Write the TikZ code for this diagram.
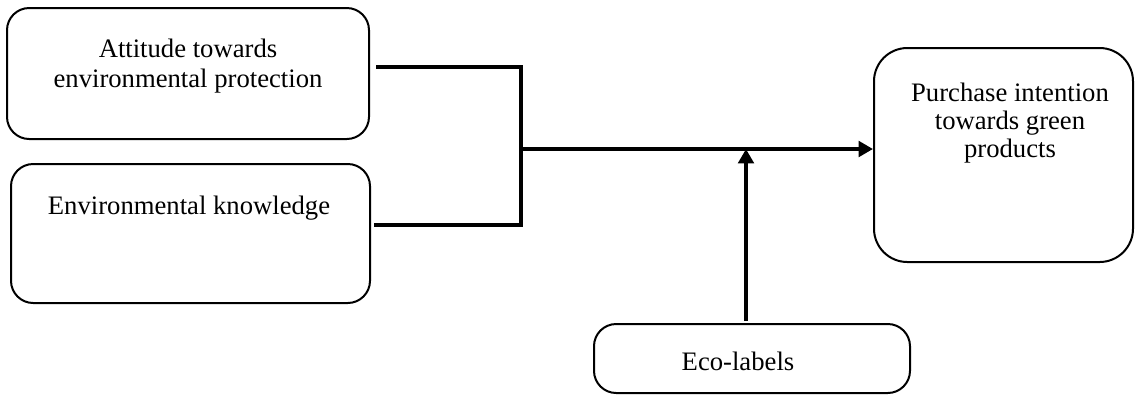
\documentclass[tikz,border=0pt]{standalone}
\usepackage{fontspec}
\setmainfont{Liberation Serif}
\usetikzlibrary{arrows.meta}
\begin{document}
\begin{tikzpicture}[x=0.45pt,y=-0.45pt,
  box/.style={draw,line width=0.9pt,rounded corners=10pt,inner sep=0pt},
  lbl/.style={font=\fontsize{12}{13.8}\selectfont,align=center,inner sep=0pt},
  conn/.style={line width=1.6pt},
  arr/.style={conn,-{Triangle[length=6.5pt,width=7pt]}}]
\useasboundingbox (0,0) rectangle (1136,394);
% boxes
\node[box,minimum width=362*0.45pt,minimum height=131*0.45pt] (b1) at (188,73.5) {};
\node[box,minimum width=359*0.45pt,minimum height=139*0.45pt] (b2) at (190.5,233.5) {};
\node[box,rounded corners=15pt,minimum width=259*0.45pt,minimum height=214*0.45pt] (b3) at (1003.5,155) {};
\node[box,minimum width=316*0.45pt,minimum height=69*0.45pt] (b4) at (752,358.5) {};
% labels
\node[lbl] (t1) at (188,66) {Attitude towards\\environmental protection};
\node[lbl,anchor=base] (t2) at (189,214) {Environmental knowledge};
\node[lbl,font=\fontsize{12}{12.6}\selectfont] (t3) at (1010,123) {Purchase intention\\towards green\\products};
\node[lbl,anchor=base] (t4) at (738,370) {Eco-labels};
% connectors
\coordinate (j1) at (521,67);
\coordinate (j2) at (521,225);
\coordinate (jm) at (521,149);
\coordinate (m) at (746,149);
\draw[conn] ([xshift=6*0.45pt]b1.east |- j1) -- (j1) -- (j2) -- ([xshift=3*0.45pt]b2.east |- j2);
\draw[arr] (jm) -- (b3.west |- jm);
\draw[arr] (b4.north -| m) ++(0,-2) -- (m);
\end{tikzpicture}
\end{document}
